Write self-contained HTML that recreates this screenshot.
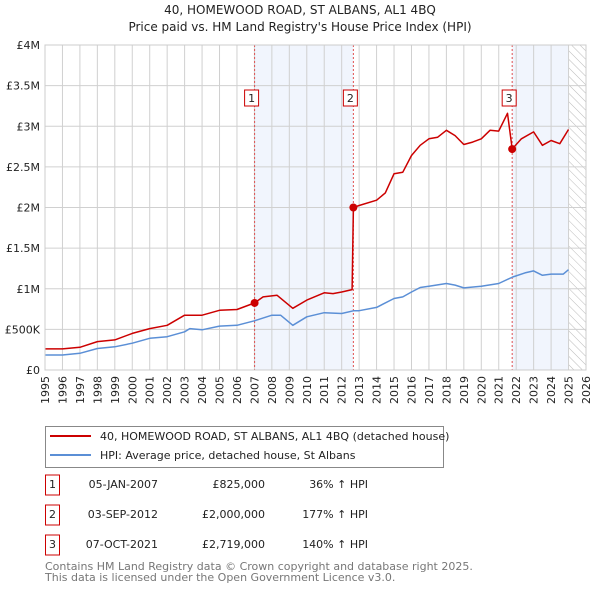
<!DOCTYPE html>
<html><head><meta charset="utf-8">
<style>
body{margin:0;background:#fff;font-family:"Liberation Sans","DejaVu Sans",sans-serif;}
#wrap{position:relative;width:600px;height:590px;overflow:hidden;}
svg text{font-family:"DejaVu Sans","Liberation Sans",sans-serif;}
</style></head>
<body>
<div id="wrap">
<svg id="chart" width="600" height="590"></svg>
</div>
<script>
const yearTicks=[1995,1996,1997,1998,1999,2000,2001,2002,2003,2004,2005,2006,2007,2008,2009,2010,2011,2012,2013,2014,2015,2016,2017,2018,2019,2020,2021,2022,2023,2024,2025,2026];
const valueTicks=[0,500000,1000000,1500000,2000000,2500000,3000000,3500000,4000000];
const valueTickLabels=["£0","£500K","£1M","£1.5M","£2M","£2.5M","£3M","£3.5M","£4M"];
const hpiYears=[1995,1996,1997,1998,1999,2000,2001,2002,2003,2003.3,2004,2005,2006,2007,2008,2008.5,2009.2,2010,2011,2012,2012.7,2013,2014,2015,2015.5,2016,2016.5,2017,2018,2018.5,2019,2020,2021,2021.8,2022.5,2023,2023.5,2024,2024.7,2025];
const hpiValues=[185,185,205,265,285,330,390,410,470,510,495,540,550,605,675,675,550,655,705,695,730,730,770,880,900,960,1015,1030,1065,1045,1010,1030,1065,1145,1195,1220,1165,1180,1180,1235];
const priceYears=[1995,1996,1997,1998,1999,2000,2001,2002,2003,2004,2005,2006,2007.0,2007.5,2008.3,2009.2,2010,2011,2011.5,2012,2012.6,2012.67,2013,2014,2014.5,2015,2015.5,2016,2016.5,2017,2017.5,2018,2018.5,2019,2019.5,2020,2020.5,2021,2021.5,2021.77,2022.3,2023,2023.5,2024,2024.5,2025];
const priceValues=[260,260,280,350,370,450,510,550,675,675,735,745,825,900,920,760,860,950,940,960,990,2000,2025,2090,2180,2415,2435,2640,2765,2845,2865,2950,2885,2775,2805,2845,2950,2940,3160,2720,2845,2930,2765,2825,2785,2960];
const saleYears=[2007.01,2012.67,2021.77];
const saleValues=[825000,2000000,2719000];
const saleLabels=["1","2","3"];

const X0=45,X1=586,Y0=370,Y1=45;
const xs=y=>X0+(y-1995)/(2026-1995)*(X1-X0);
const ys=v=>Y0-v/4000000*(Y0-Y1);
const svg=document.getElementById('chart');
const NS='http://www.w3.org/2000/svg';
function mk(tag,attrs,parent){const e=document.createElementNS(NS,tag);for(const k in attrs)e.setAttribute(k,attrs[k]);(parent||svg).appendChild(e);return e;}

const defs=mk('defs',{});
const pat=mk('pattern',{id:'hatch',width:6,height:6,patternUnits:'userSpaceOnUse',patternTransform:'rotate(-45)'},defs);
mk('line',{x1:0,y1:0,x2:0,y2:6,stroke:'#bbb','stroke-width':1},pat);

let t=mk('text',{x:300,y:14,'text-anchor':'middle','font-size':12,fill:'#222'});t.textContent='40, HOMEWOOD ROAD, ST ALBANS, AL1 4BQ';

t=mk('text',{x:300,y:31,'text-anchor':'middle','font-size':12,fill:'#222'});t.textContent="Price paid vs. HM Land Registry's House Price Index (HPI)";


let r=mk('rect',{x:xs(saleYears[0]),y:Y1,width:xs(saleYears[1])-xs(saleYears[0]),height:Y0-Y1,fill:'#eef3fc',opacity:0.8});

r=mk('rect',{x:xs(saleYears[2]),y:Y1,width:xs(2025.0)-xs(saleYears[2]),height:Y0-Y1,fill:'#eef3fc',opacity:0.8});

r=mk('rect',{x:xs(2025.0),y:Y1,width:X1-xs(2025.0),height:Y0-Y1,fill:'url(#hatch)'});


yearTicks.forEach(yr=>{
  const l=mk('line',{x1:xs(yr),x2:xs(yr),y1:Y1,y2:Y0,stroke:'#d0d0d0','stroke-width':1});
  
  const tx=mk('text',{x:0,y:0,'font-size':11,fill:'#222','text-anchor':'end',transform:`translate(${xs(yr)+4},${Y0+6}) rotate(-90)`});
  tx.textContent=yr;
  
});
valueTicks.forEach((v,i)=>{
  const l=mk('line',{x1:X0,x2:X1,y1:ys(v),y2:ys(v),stroke:'#d0d0d0','stroke-width':1});
  
  const tx=mk('text',{x:X0-5,y:ys(v)+4,'font-size':11,fill:'#222','text-anchor':'end'});
  tx.textContent=valueTickLabels[i];
  
});

saleYears.forEach((yr,i)=>{
  const l=mk('line',{x1:xs(yr),x2:xs(yr),y1:Y1,y2:Y0,stroke:'#e05050','stroke-width':1,'stroke-dasharray':'2,2'});
  
});

function path(xsArr,vals,color,name){
  let d='';xsArr.forEach((yr,i)=>{d+=(i?'L':'M')+xs(yr).toFixed(1)+','+ys(vals[i]*1000).toFixed(1);});
  const p=mk('path',{d:d,fill:'none',stroke:color,'stroke-width':1.5,'stroke-linejoin':'round'});
  
}
path(hpiYears,hpiValues,'#5b8fd6','hpi-line');
path(priceYears,priceValues,'#cc0000','price-line');

saleYears.forEach((yr,i)=>{
  const c=mk('circle',{cx:xs(yr),cy:ys(saleValues[i]),r:4,fill:'#cc0000'});
  
  const g=mk('g',{});
  
  mk('rect',{x:xs(yr)-10,y:90,width:14,height:16,fill:'#fff',stroke:'#cc0000','stroke-width':1},g);
  const tx=mk('text',{x:xs(yr)-3,y:102,'font-size':11,'text-anchor':'middle',fill:'#222'},g);tx.textContent=saleLabels[i];
});
r=mk('rect',{x:X0,y:Y1,width:X1-X0,height:Y0-Y1,fill:'none',stroke:'#ccc'});


const lg=mk('g',{});
mk('rect',{x:45.5,y:426.5,width:398,height:41,fill:'#fff',stroke:'#888'},lg);
mk('line',{x1:50,x2:91,y1:436,y2:436,stroke:'#cc0000','stroke-width':2},lg);
mk('line',{x1:50,x2:91,y1:455,y2:455,stroke:'#5b8fd6','stroke-width':2},lg);
let lt=mk('text',{x:100,y:440,'font-size':11,fill:'#222'},lg);lt.textContent='40, HOMEWOOD ROAD, ST ALBANS, AL1 4BQ (detached house)';
lt=mk('text',{x:100,y:459,'font-size':11,fill:'#222'},lg);lt.textContent='HPI: Average price, detached house, St Albans';

const rows=[["1","05-JAN-2007","£825,000","36% ↑ HPI"],["2","03-SEP-2012","£2,000,000","177% ↑ HPI"],["3","07-OCT-2021","£2,719,000","140% ↑ HPI"]];
rows.forEach((rw,i)=>{
  const y=488+i*30;
  const g=mk('g',{});
  mk('rect',{x:45.5,y:y-13,width:14,height:20,fill:'#fff',stroke:'#cc0000'},g);
  let a=mk('text',{x:52.5,y:y,'font-size':11,'text-anchor':'middle',fill:'#222'},g);a.textContent=rw[0];
  a=mk('text',{x:158,y:y,'font-size':11,'text-anchor':'end',fill:'#222'},g);a.textContent=rw[1];
  a=mk('text',{x:265,y:y,'font-size':11,'text-anchor':'end',fill:'#222'},g);a.textContent=rw[2];
  a=mk('text',{x:368,y:y,'font-size':11,'text-anchor':'end',fill:'#222'},g);a.textContent=rw[3];
});
let f=mk('text',{x:45,y:570,'font-size':11,fill:'#777'});f.textContent='Contains HM Land Registry data © Crown copyright and database right 2025.';

f=mk('text',{x:45,y:581,'font-size':11,fill:'#777'});f.textContent='This data is licensed under the Open Government Licence v3.0.';

</script>
</body></html>
